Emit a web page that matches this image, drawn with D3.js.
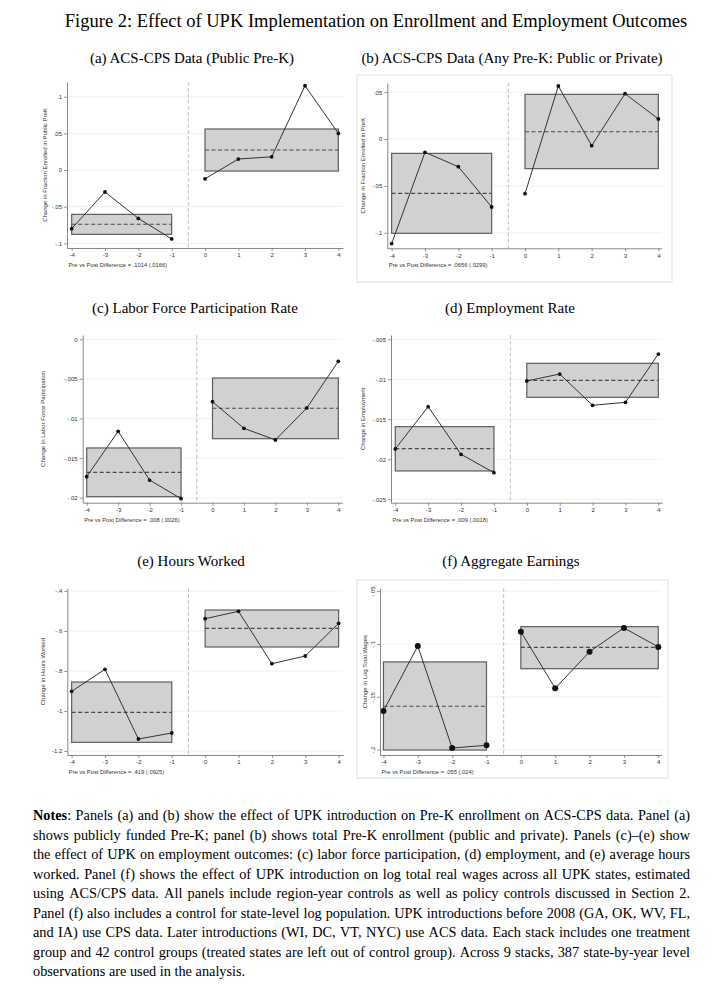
<!DOCTYPE html>
<html><head><meta charset="utf-8">
<script src="https://cdn.jsdelivr.net/npm/d3@7"></script>
<style>body{margin:0;background:#fff}</style>
</head><body>
<svg id="c" width="725" height="1000"></svg>
<script>
// ---------- DATA ----------
const figureTitle = "Figure 2: Effect of UPK Implementation on Enrollment and Employment Outcomes";
const periods = [-4,-3,-2,-1,0,1,2,3,4];
const periodLabels = ["-4","-3","-2","-1","0","1","2","3","4"];
const panelTitles = [
  "(a) ACS-CPS Data (Public Pre-K)",
  "(b) ACS-CPS Data (Any Pre-K: Public or Private)",
  "(c) Labor Force Participation Rate",
  "(d) Employment Rate",
  "(e) Hours Worked",
  "(f) Aggregate Earnings"
];
const yTitles = [
  "Change in Fraction Enrolled in Public PreK",
  "Change in Fraction Enrolled in PreK",
  "Change in Labor Force Participation",
  "Change in Employment",
  "Change in Hours Worked",
  "Change in Log Total Wages"
];
const diffLabels = [
  "Pre vs Post Difference = .1014 (.0166)",
  "Pre vs Post Difference = .0656 (.0299)",
  "Pre vs Post Difference = .008 (.0026)",
  "Pre vs Post Difference = .009 (.0018)",
  "Pre vs Post Difference = .419 (.0925)",
  "Pre vs Post Difference = .055 (.024)"
];
// event-study estimates, periods -4..4
const estA = [-0.080,-0.030,-0.066,-0.094,-0.012,0.015,0.018,0.115,0.050];
const estB = [-0.1115,-0.0142,-0.0295,-0.0725,-0.0583,0.0565,-0.0071,0.0483,0.0213];
const estC = [-0.01735,-0.01162,-0.01777,-0.02012,-0.00788,-0.01124,-0.01271,-0.00867,-0.00278];
const estD = [-0.01871,-0.01342,-0.01938,-0.02167,-0.01021,-0.00934,-0.01325,-0.01288,-0.00684];
const estE = [-0.9015,-0.7915,-1.14,-1.11,-0.5385,-0.5015,-0.7635,-0.725,-0.5615];
const estF = [-0.1634,-0.1019,-0.1985,-0.1959,-0.0884,-0.142,-0.1073,-0.0848,-0.1028];
// [low, high, mean] for pre (-4..-1) and post (0..4)
const bandsA = [[-0.0878,-0.0605,-0.074],[-0.0014,0.056,0.0273]];
const bandsB = [[-0.1005,-0.0153,-0.0579],[-0.0316,0.0476,0.0078]];
const bandsC = [[-0.01987,-0.01372,-0.0168],[-0.01255,-0.00489,-0.00871]];
const bandsD = [[-0.02146,-0.01592,-0.01867],[-0.01225,-0.008,-0.01013]];
const bandsE = [[-1.1567,-0.855,-1.0067],[-0.68,-0.495,-0.5867]];
const bandsF = [[-0.2004,-0.117,-0.159],[-0.1234,-0.0836,-0.1032]];
const ticksA = [-0.1,-0.05,0,0.05,0.1];           const tickLabelsA = ["-.1","-.05","0",".05",".1"];
const ticksB = [-0.1,-0.05,0,0.05];               const tickLabelsB = ["-.1","-.05","0",".05"];
const ticksC = [-0.02,-0.015,-0.01,-0.005,0];     const tickLabelsC = ["-.02","-.015","-.01","-.005","0"];
const ticksD = [-0.025,-0.02,-0.015,-0.01,-0.005];const tickLabelsD = ["-.025","-.02","-.015","-.01","-.005"];
const ticksE = [-1.2,-1,-0.8,-0.6,-0.4];          const tickLabelsE = ["-1.2","-1","-.8","-.6","-.4"];
const ticksF = [-0.2,-0.15,-0.1,-0.05];           const tickLabelsF = ["-.2","-.15","-.1","-.05"];
const notesLines = [
  "Notes: Panels (a) and (b) show the effect of UPK introduction on Pre-K enrollment on ACS-CPS data. Panel (a)",
  "shows publicly funded Pre-K; panel (b) shows total Pre-K enrollment (public and private). Panels (c)–(e) show",
  "the effect of UPK on employment outcomes: (c) labor force participation, (d) employment, and (e) average hours",
  "worked. Panel (f) shows the effect of UPK introduction on log total real wages across all UPK states, estimated",
  "using ACS/CPS data. All panels include region-year controls as well as policy controls discussed in Section 2.",
  "Panel (f) also includes a control for state-level log population. UPK introductions before 2008 (GA, OK, WV, FL,",
  "and IA) use CPS data. Later introductions (WI, DC, VT, NYC) use ACS data. Each stack includes one treatment",
  "group and 42 control groups (treated states are left out of control group). Across 9 stacks, 387 state-by-year level",
  "observations are used in the analysis."
];

// ---------- LAYOUT ----------
const serif = "'Liberation Serif','Times New Roman',Times,serif";
const sans = "'Liberation Sans',Arial,Helvetica,sans-serif";
const layout = [
  {left:67,   right:343,   top:82,    bottom:248,   yDom:[-0.1064,0.1201],   xDom:[-4.14,4.14], tx:192, ty:63,  ylx:47,  frame:null, r:1.9},
  {left:387.3,right:661.7, top:83,    bottom:248.3, yDom:[-0.1165,0.0597],   xDom:[-4.13,4.10], tx:512, ty:63,  ylx:365, frame:[357,75,315,207], r:1.9},
  {left:82.7, right:342.3, top:335,   bottom:502.7, yDom:[-0.02063,0.00054], xDom:[-4.127,4.127], tx:195, ty:313, ylx:45, frame:null, r:1.9},
  {left:391,  right:662.3, top:335,   bottom:502.7, yDom:[-0.02543,-0.00446],xDom:[-4.13,4.12], tx:510, ty:313, ylx:365, frame:null, r:1.9},
  {left:67.3, right:343.3, top:588.3, bottom:755,   yDom:[-1.22,-0.3865],    xDom:[-4.13,4.14], tx:191, ty:566, ylx:45,  frame:null, r:1.9},
  {left:380,  right:661.7, top:588.3, bottom:755,   yDom:[-0.2051,-0.0473],  xDom:[-4.1,4.1],   tx:511, ty:566, ylx:367, frame:[357,580,311,198], r:3, rotTicks:true}
];
const estimates = [estA,estB,estC,estD,estE,estF];
const bands = [bandsA,bandsB,bandsC,bandsD,bandsE,bandsF];
const ticks = [ticksA,ticksB,ticksC,ticksD,ticksE,ticksF];
const tickLabels = [tickLabelsA,tickLabelsB,tickLabelsC,tickLabelsD,tickLabelsE,tickLabelsF];

const svg = d3.select("#c");

svg.append("text").attr("x",376).attr("y",27).attr("text-anchor","middle")
  .style("font-family",serif).style("font-size","18.5px").attr("fill","#000").text(figureTitle);

layout.forEach((p,k) => {
  const g = svg.append("g");
  const x = d3.scaleLinear().domain(p.xDom).range([p.left,p.right]);
  const y = d3.scaleLinear().domain(p.yDom).range([p.bottom,p.top]);
  if (p.frame) g.append("rect").attr("x",p.frame[0]).attr("y",p.frame[1]).attr("width",p.frame[2]).attr("height",p.frame[3])
      .attr("fill","none").attr("stroke","#d8d8d8").attr("stroke-width",0.8);
  g.append("text").attr("x",p.tx).attr("y",p.ty).attr("text-anchor","middle")
    .style("font-family",serif).style("font-size","15px").text(panelTitles[k]);
  // gridlines
  g.selectAll("line.grid").data(ticks[k]).join("line").attr("class","grid")
    .attr("x1",p.left).attr("x2",p.right).attr("y1",d=>y(d)).attr("y2",d=>y(d))
    .attr("stroke","#ececec").attr("stroke-width",0.8);
  // boxes + means
  const segs = [[-4,-1],[0,4]];
  bands[k].forEach((b,i) => {
    g.append("rect").attr("x",x(segs[i][0])).attr("width",x(segs[i][1])-x(segs[i][0]))
      .attr("y",y(b[1])).attr("height",y(b[0])-y(b[1]))
      .attr("fill","#d1d1d1").attr("stroke","#5e5e5e").attr("stroke-width",1.2);
    g.append("line").attr("x1",x(segs[i][0])).attr("x2",x(segs[i][1])).attr("y1",y(b[2])).attr("y2",y(b[2]))
      .attr("stroke","#4a4a4a").attr("stroke-width",1.1).attr("stroke-dasharray","4,2.5");
  });
  // vertical reference line
  g.append("line").attr("x1",x(-0.5)).attr("x2",x(-0.5)).attr("y1",p.top).attr("y2",p.bottom)
    .attr("stroke","#b5b5b5").attr("stroke-width",0.9).attr("stroke-dasharray","3.5,2.5");
  // series
  const pts = periods.map((t,i)=>({t, v:estimates[k][i]}));
  const line = d3.line().x(d=>x(d.t)).y(d=>y(d.v));
  [pts.filter(d=>d.t<0), pts.filter(d=>d.t>=0)].forEach(seg => {
    g.append("path").attr("d",line(seg)).attr("fill","none").attr("stroke","#333").attr("stroke-width",1);
  });
  g.selectAll("circle").data(pts).join("circle").attr("cx",d=>x(d.t)).attr("cy",d=>y(d.v)).attr("r",p.r).attr("fill","#111");
  // axes
  const yAx = g.append("g").attr("transform",`translate(${p.left},0)`)
    .call(d3.axisLeft(y).tickValues(ticks[k]).tickFormat((d,i)=>tickLabels[k][i]).tickSize(3).tickSizeOuter(0).tickPadding(2));
  const xAx = g.append("g").attr("transform",`translate(0,${p.bottom})`)
    .call(d3.axisBottom(x).tickValues(periods).tickFormat((d,i)=>periodLabels[i]).tickSize(3).tickSizeOuter(0).tickPadding(2));
  [yAx,xAx].forEach(a => {
    a.select(".domain").attr("stroke","#7a7a7a").attr("stroke-width",0.9);
    a.selectAll(".tick line").attr("stroke","#7a7a7a").attr("stroke-width",0.8);
    a.selectAll(".tick text").attr("fill","#333").style("font-family",sans).style("font-size","6px");
  });
  if (p.rotTicks) {
    yAx.selectAll(".tick text").attr("x",0).attr("dy",null).attr("y",-5)
      .attr("text-anchor","middle").attr("transform","rotate(-90)");
  }
  // y title
  const cy = (p.top+p.bottom)/2;
  g.append("text").attr("transform",`translate(${p.ylx},${cy}) rotate(-90)`).attr("text-anchor","middle")
    .style("font-family",sans).style("font-size","6px").attr("fill","#333").text(yTitles[k]);
  // difference caption
  g.append("text").attr("x",p.left+1.5).attr("y",p.bottom+19).style("font-family",sans).style("font-size","5.8px")
    .attr("fill","#333").text(diffLabels[k]);
});

// ---------- NOTES (justified) ----------
const nx0 = 33, nx1 = 690, ny0 = 820, ngap = 19.5;
notesLines.forEach((ln,i) => {
  const yy = ny0 + i*ngap;
  const words = ln.split(" ");
  const nodes = words.map((w,j) => {
    const t = svg.append("text").attr("y",yy).style("font-family",serif).style("font-size","14.3px").attr("fill","#000");
    if (i===0 && j===0) { t.append("tspan").style("font-weight","bold").text("Notes"); t.append("tspan").text(":"); }
    else t.text(w);
    return t;
  });
  const widths = nodes.map(n => n.node().getComputedTextLength());
  const total = d3.sum(widths);
  const justify = i < notesLines.length-1;
  const gap = justify ? (nx1-nx0-total)/(words.length-1) : 3.6;
  let cx = nx0;
  nodes.forEach((n,j) => { n.attr("x",cx); cx += widths[j] + gap; });
});
</script>
</body></html>
